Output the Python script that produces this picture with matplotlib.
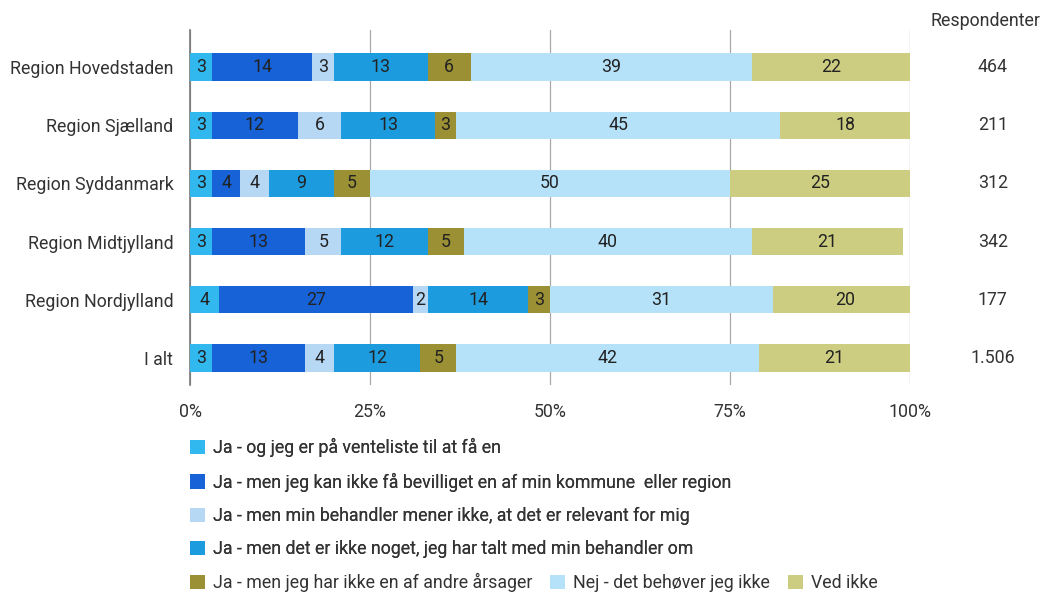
import matplotlib
matplotlib.use("Agg")
import matplotlib.pyplot as plt
from matplotlib.patches import Patch
from matplotlib.ticker import FuncFormatter
import numpy as np

plt.rcParams["font.family"] = ["Roboto", "DejaVu Sans"]

regions = ["Region Hovedstaden", "Region Sjælland", "Region Syddanmark",
           "Region Midtjylland", "Region Nordjylland", "I alt"]
respondenter = ["464", "211", "312", "342", "177", "1.506"]

svar = [
    "Ja - og jeg er på venteliste til at få en",
    "Ja - men jeg kan ikke få bevilliget en af min kommune  eller region",
    "Ja - men min behandler mener ikke, at det er relevant for mig",
    "Ja - men det er ikke noget, jeg har talt med min behandler om",
    "Ja - men jeg har ikke en af andre årsager",
    "Nej - det behøver jeg ikke",
    "Ved ikke",
]

# andele i procent, en liste pr. svarmulighed (rækkefølge som regions)
venteliste = [3, 3, 3, 3, 4, 3]
ikke_bevilliget = [14, 12, 4, 13, 27, 13]
behandler_mener_ikke = [3, 6, 4, 5, 2, 4]
ikke_talt_om = [13, 13, 9, 12, 14, 12]
andre_aarsager = [6, 3, 5, 5, 3, 5]
behoever_ikke = [39, 45, 50, 40, 31, 42]
ved_ikke = [22, 18, 25, 21, 20, 21]

serier = [venteliste, ikke_bevilliget, behandler_mener_ikke, ikke_talt_om,
          andre_aarsager, behoever_ikke, ved_ikke]
farver = ["#30b8ef", "#1662d6", "#b6d8f4", "#1c9cdf",
          "#9b9034", "#b6e2f9", "#cdcd82"]

FS = 12.8

fig = plt.figure(figsize=(10.48, 5.94), dpi=100)
ax = fig.add_axes([190 / 1048, 1 - 385 / 594, 720 / 1048, 355 / 594])

y = np.arange(len(regions))
left = np.zeros(len(regions))
for vals, farve in zip(serier, farver):
    vals = np.array(vals, dtype=float)
    ax.barh(y, vals, left=left, height=0.47, color=farve, zorder=3)
    for yi, l, v in zip(y, left, vals):
        ax.text(l + v / 2, yi, f"{v:.0f}", ha="center", va="center",
                fontsize=FS, color="#222222", zorder=4)
    left += vals

ax.set_xlim(0, 100)
ax.set_ylim(5 + 27 / 58.2, -37 / 58.2)
ax.set_xticks([0, 25, 50, 75, 100])
ax.xaxis.set_major_formatter(FuncFormatter(lambda x, p: f"{x:.0f}%"))
ax.set_yticks(y)
ax.set_yticklabels(regions)
ax.tick_params(axis="both", length=0, labelsize=FS, labelcolor="#333333")
ax.tick_params(axis="x", pad=13)
ax.tick_params(axis="y", pad=12)
ax.grid(axis="x", color="#a8a8a8", linewidth=0.9, zorder=0)
for side in ["top", "right", "bottom"]:
    ax.spines[side].set_visible(False)
ax.spines["left"].set_color("#777777")
ax.spines["left"].set_linewidth(1.2)

# antal respondenter til højre for søjlerne
ax.text(110.5, -37 / 58.2 - 0.16, "Respondenter", ha="center", va="center",
        fontsize=FS, color="#333333", clip_on=False)
for yi, n in zip(y, respondenter):
    ax.text(111.5, yi, n, ha="center", va="center", fontsize=FS,
            color="#333333", clip_on=False)

handles = [Patch(facecolor=c, edgecolor="none") for c in farver]
leg1 = fig.legend(handles[:4], svar[:4], loc="upper left",
                  bbox_to_anchor=(183 / 1048, 1 - 431 / 594), frameon=False,
                  fontsize=FS, handlelength=0.85, handleheight=0.85,
                  handletextpad=0.45, labelspacing=0.86, borderaxespad=0,
                  labelcolor="#333333")
fig.legend(handles[4:], svar[4:], loc="upper left", ncol=3,
           bbox_to_anchor=(183 / 1048, 1 - 566 / 594), frameon=False,
           fontsize=FS, handlelength=0.85, handleheight=0.85,
           handletextpad=0.45, columnspacing=1.0, borderaxespad=0,
           labelcolor="#333333")
fig.add_artist(leg1)

fig.savefig("out.png", dpi=100)
